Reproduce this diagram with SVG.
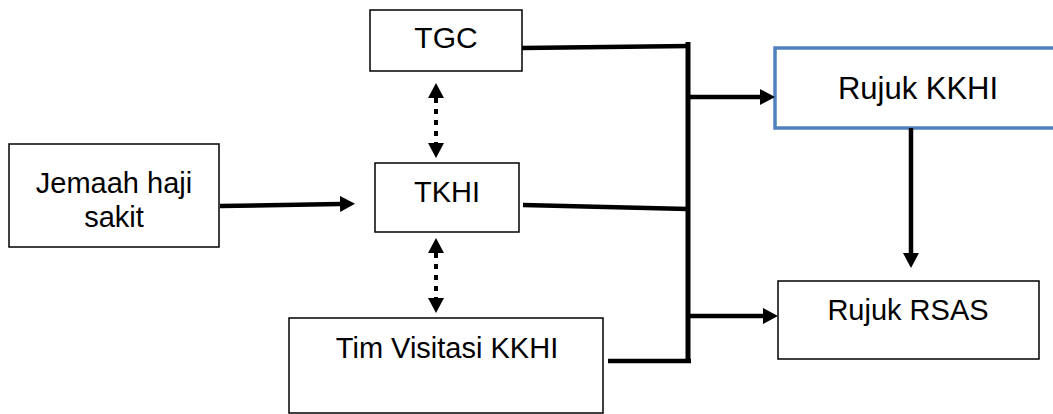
<svg xmlns="http://www.w3.org/2000/svg" width="1053" height="414" viewBox="0 0 1053 414">
<style>
.box{fill:#fff;stroke:#000;stroke-width:1.5}
.blue{fill:#fff;stroke:#4F81BD;stroke-width:3.5}
.t{font-family:"Liberation Sans",Arial,sans-serif;font-size:29px;fill:#000;text-anchor:middle}
.c{fill:none;stroke:#000;stroke-width:4.5}
.d{fill:none;stroke:#000;stroke-width:4;stroke-dasharray:5 6}
</style>
<defs>
<marker id="ah" markerUnits="userSpaceOnUse" markerWidth="16" markerHeight="16" refX="0" refY="8" orient="auto-start-reverse" viewBox="0 0 16 16">
<path d="M0,0 L15,8 L0,16 z" fill="#000"/>
</marker>
</defs>
<g id="tgc"><rect class="box" x="370" y="10" width="152" height="61"/><text class="t" x="446" y="48" style="font-size:30px">TGC</text></g>
<g id="jemaah"><rect class="box" x="9" y="144" width="210" height="103"/><text class="t" x="114" y="193">Jemaah haji</text><text class="t" x="114" y="227">sakit</text></g>
<g id="tkhi"><rect class="box" x="375" y="163" width="144" height="69"/><text class="t" x="447" y="202">TKHI</text></g>
<g id="tim"><rect class="box" x="289" y="318" width="314" height="95"/><text class="t" x="447" y="358">Tim Visitasi KKHI</text></g>
<g id="rujukkkhi"><rect class="blue" x="775" y="48" width="300" height="80"/><text class="t" x="918" y="99" style="font-size:31px">Rujuk KKHI</text></g>
<g id="rujukrsas"><rect class="box" x="778" y="281" width="261" height="78"/><text class="t" x="908" y="320">Rujuk RSAS</text></g>
<g id="connectors">
<path class="c" d="M220,206 L340,204" marker-end="url(#ah)"/>
<path class="c" d="M522,48 L690,46"/>
<path class="c" d="M523,205 L688,209"/>
<path class="c" d="M608,361 L691,361"/>
<path class="c" d="M688,42 L688,363" style="stroke-width:5"/>
<path class="c" d="M688,97 L760,97" marker-end="url(#ah)"/>
<path class="c" d="M688,316 L763,316" marker-end="url(#ah)"/>
<path class="c" d="M911,128 L911,253" marker-end="url(#ah)"/>
<path class="d" d="M436,98 L436,143" marker-start="url(#ah)" marker-end="url(#ah)"/>
<path class="d" d="M436,253 L436,298" marker-start="url(#ah)" marker-end="url(#ah)"/>
</g>
</svg>
